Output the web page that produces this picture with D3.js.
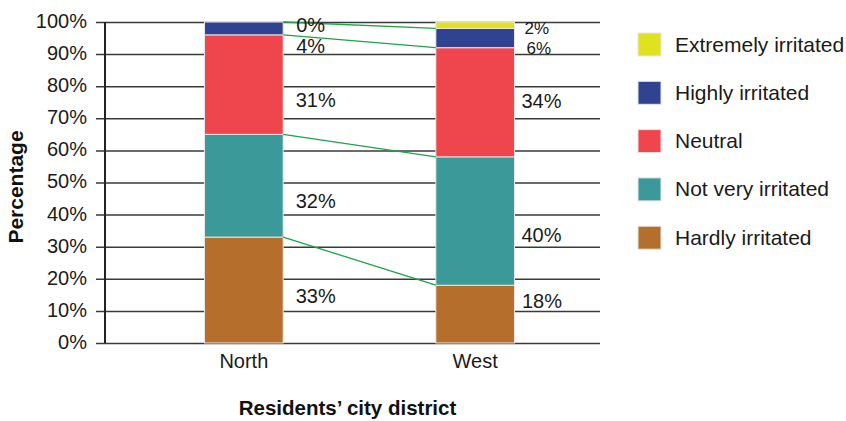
<!DOCTYPE html>
<html>
<head>
<meta charset="utf-8">
<script src="https://cdn.jsdelivr.net/npm/d3@7"></script>
<style>
  html, body { margin: 0; padding: 0; background: #fff; }
  svg { display: block; font-family: "Liberation Sans", Arial, sans-serif; }
</style>
</head>
<body>
<svg id="chart" width="846" height="421"></svg>
<script>
// Districts on the x axis
const districts = ["North", "West"];
// Response categories, bottom of the stack first
const categories = ["Hardly irritated", "Not very irritated", "Neutral", "Highly irritated", "Extremely irritated"];
// Share of residents (%) per category, same order as categories
const northValues = [33, 32, 31, 4, 0];
const westValues = [18, 40, 34, 6, 2];
// Y tick values (%)
const yTicks = [0, 10, 20, 30, 40, 50, 60, 70, 80, 90, 100];

const colors = ["#b56e2b", "#3b9a99", "#ef464d", "#2f4391", "#e1e21f"];

const svg = d3.select("#chart");
const axisLeftX = 105, gridRight = 600;

const y = d3.scaleLinear().domain([0, 100]).range([343, 22]);
const x = d3.scaleBand().domain(districts).range([112, 607])
  .paddingInner(0.66).paddingOuter(0.4);
const color = d3.scaleOrdinal().domain(categories).range(colors);

// Stacked layout
const rows = districts.map((d, i) => {
  const vals = i === 0 ? northValues : westValues;
  const r = { district: d };
  categories.forEach((c, j) => r[c] = vals[j]);
  return r;
});
const stacked = d3.stack().keys(categories)(rows);

// Gridlines with small ticks left of the axis
const grid = svg.append("g").attr("transform", `translate(${axisLeftX},0)`)
  .call(d3.axisLeft(y).tickValues(yTicks).tickFormat(d => d + "%")
    .tickSize(-(gridRight - axisLeftX)).tickPadding(18));
grid.select(".domain").remove();
grid.selectAll(".tick line")
  .attr("x1", -9).attr("stroke", "#3a3a3a").attr("stroke-width", 1.5);
grid.selectAll(".tick text")
  .attr("font-size", 20).attr("fill", "#1a1a1a").attr("dy", "0.27em")
  .attr("font-family", "Liberation Sans, Arial, sans-serif");

// Vertical axis line
svg.append("line")
  .attr("x1", axisLeftX).attr("x2", axisLeftX)
  .attr("y1", y(100)).attr("y2", y(0))
  .attr("stroke", "#222").attr("stroke-width", 2);

// Bars
svg.append("g").selectAll("g").data(stacked).join("g")
  .attr("fill", s => color(s.key))
  .selectAll("rect").data(s => s).join("rect")
  .attr("x", d => x(d.data.district))
  .attr("width", x.bandwidth())
  .attr("y", d => y(d[1]))
  .attr("height", d => y(d[0]) - y(d[1]))
  .attr("stroke", "#e6e6e6").attr("stroke-width", 1);

// Connectors between the tops of matching segments
const [n0, n1] = districts;
const connectorKeys = categories.slice(0, 4);
svg.append("g").selectAll("line").data(connectorKeys).join("line")
  .attr("x1", x(n0) + x.bandwidth())
  .attr("x2", x(n1))
  .attr("y1", k => y(stacked[categories.indexOf(k)][0][1]))
  .attr("y2", k => y(stacked[categories.indexOf(k)][1][1]))
  .attr("stroke", "#1ea34a").attr("stroke-width", 1.3);

// Value labels to the right of each bar; per-label nudges keep them clear of each other
const labelShift = {
  "North": { dx: [12.5, 12.5, 12.5, 13, 13], dy: [13, 22, 22, 24.6, 10], size: [20, 20, 20, 20, 20] },
  "West":  { dx: [7.5, 7, 7, 12, 10], dy: [-6, 21, 6, 16, 9], size: [20, 20, 20, 17, 17] }
};
const labels = [];
stacked.forEach((s, j) => {
  s.forEach((d, i) => {
    const dist = d.data.district;
    const sh = labelShift[dist];
    labels.push({
      text: (d[1] - d[0]) + "%",
      x: x(dist) + x.bandwidth() + sh.dx[j],
      y: (y(d[0]) + y(d[1])) / 2 + sh.dy[j],
      size: sh.size[j]
    });
  });
});
svg.append("g").selectAll("text").data(labels).join("text")
  .attr("x", d => d.x).attr("y", d => d.y)
  .attr("font-size", d => d.size).attr("fill", "#1a1a1a")
  .text(d => d.text);

// X category labels
svg.append("g").selectAll("text").data(districts).join("text")
  .attr("x", d => x(d) + x.bandwidth() / 2)
  .attr("y", 368)
  .attr("text-anchor", "middle")
  .attr("font-size", 20).attr("fill", "#1a1a1a")
  .text(d => d);

// Axis titles
svg.append("text")
  .attr("x", 347.5).attr("y", 415)
  .attr("text-anchor", "middle")
  .attr("font-size", 20.5).attr("font-weight", "bold").attr("fill", "#111")
  .text("Residents’ city district");

svg.append("text")
  .attr("transform", "translate(23,187) rotate(-90)")
  .attr("text-anchor", "middle")
  .attr("font-size", 21).attr("font-weight", "bold").attr("fill", "#111")
  .text("Percentage");

// Legend, top category first
const legendItems = categories.slice().reverse();
const legend = svg.append("g").selectAll("g").data(legendItems).join("g")
  .attr("transform", (d, i) => `translate(638,${33 + i * 48.3})`);
legend.append("rect")
  .attr("width", 23).attr("height", 23)
  .attr("fill", d => color(d))
  .attr("stroke", "#e6e6e6").attr("stroke-width", 1);
legend.append("text")
  .attr("x", 37).attr("y", 18.5)
  .attr("font-size", 21).attr("fill", "#1a1a1a")
  .text(d => d);
</script>
</body>
</html>
